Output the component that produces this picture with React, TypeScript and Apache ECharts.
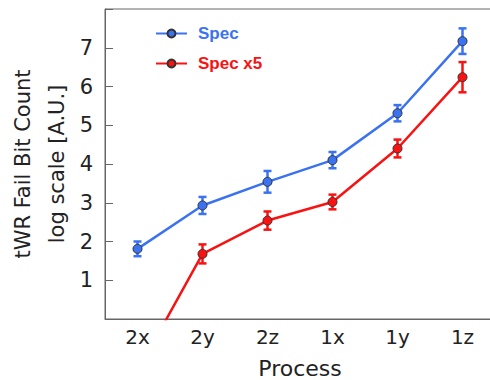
import React, { useEffect, useRef } from "react";
import * as echarts from "echarts";

const categories = ["2x", "2y", "2z", "1x", "1y", "1z"];
const specValues = [1.81, 2.93, 3.54, 4.1, 5.31, 7.17];
const specErrors = [0.19, 0.22, 0.28, 0.21, 0.21, 0.33];
const spec5Values = [-1.35, 1.68, 2.54, 3.02, 4.4, 6.24];
const spec5Errors = [null, 0.245, 0.235, 0.19, 0.23, 0.39];
const yTicks = [0, 1, 2, 3, 4, 5, 6, 7, 8];

const BLUE = "#3b72f2";
const RED = "#f81212";
const FONT = "DejaVu Sans";

function errorData(values: number[], errors: (number | null)[]) {
  const out: number[][] = [];
  values.forEach((v, i) => {
    const e = errors[i];
    if (e != null) out.push([i, v - e, v + e]);
  });
  return out;
}

function errorSeries(name: string, color: string, data: number[][]) {
  return {
    type: "custom",
    name: name + "-err",
    z: 1,
    silent: true,
    data,
    encode: { x: 0, y: [1, 2] },
    renderItem: (_params: any, api: any) => {
      const x = api.value(0);
      const lo = api.coord([x, api.value(1)]);
      const hi = api.coord([x, api.value(2)]);
      const hw = 4;
      const style = { stroke: color, lineWidth: 2.5 };
      return {
        type: "group",
        children: [
          { type: "line", shape: { x1: lo[0], y1: lo[1], x2: hi[0], y2: hi[1] }, style },
          { type: "line", shape: { x1: lo[0] - hw, y1: lo[1], x2: lo[0] + hw, y2: lo[1] }, style },
          { type: "line", shape: { x1: hi[0] - hw, y1: hi[1], x2: hi[0] + hw, y2: hi[1] }, style },
        ],
      };
    },
  };
}

export default function App() {
  const ref = useRef<HTMLDivElement>(null);
  useEffect(() => {
    if (!ref.current) return;
    const chart = echarts.init(ref.current, null, { renderer: "svg" });
    chart.setOption({
      animation: false,
      backgroundColor: "#ffffff",
      grid: {
        left: 105,
        top: 9,
        width: 390,
        height: 310,
        outerBoundsMode: "none",
        containLabel: false,
        show: true,
        borderColor: "#666",
        borderWidth: 1,
      },
      legend: {
        orient: "vertical",
        left: 150,
        top: 20,
        itemWidth: 31,
        itemHeight: 10,
        itemGap: 13,
        data: [
          { name: "Spec", textStyle: { color: BLUE } },
          { name: "Spec x5", textStyle: { color: RED } },
        ],
        textStyle: { fontFamily: "Liberation Sans", fontWeight: "bold", fontSize: 17, padding: [0, 0, 0, 6] },
      },
      xAxis: {
        type: "category",
        data: categories,
        boundaryGap: true,
        name: "Process",
        nameLocation: "middle",
        nameGap: 38,
        nameTextStyle: { fontFamily: FONT, fontSize: 22, color: "#222" },
        axisLine: { lineStyle: { color: "#666", width: 1 } },
        axisTick: { inside: true, length: 6, alignWithLabel: true, lineStyle: { color: "#666" } },
        axisLabel: { fontFamily: FONT, fontSize: 20, color: "#222", margin: 8 },
        splitLine: { show: false },
      },
      yAxis: {
        type: "value",
        min: yTicks[0],
        max: yTicks[yTicks.length - 1],
        interval: 1,
        name: "tWR Fail Bit Count\nlog scale [A.U.]",
        nameLocation: "middle",
        nameRotate: 90,
        nameGap: 31,
        nameMoveOverlap: false,
        nameTextStyle: { fontFamily: FONT, fontSize: 21, color: "#222", lineHeight: 34 },
        axisLine: { show: true, lineStyle: { color: "#666", width: 1 } },
        axisTick: { show: true, inside: true, length: 8, lineStyle: { color: "#666" } },
        axisLabel: {
          fontFamily: FONT,
          fontSize: 21,
          color: "#222",
          margin: 12,
          formatter: (v: number) => (v === 0 || v === 8 ? "" : String(v)),
        },
        splitLine: { show: false },
      },
      series: [
        errorSeries("Spec", BLUE, errorData(specValues, specErrors)),
        errorSeries("Spec x5", RED, errorData(spec5Values, spec5Errors)),
        {
          type: "line",
          name: "Spec",
          data: specValues,
          z: 3,
          clip: true,
          symbol: "circle",
          symbolSize: 9,
          lineStyle: { color: BLUE, width: 2.5 },
          itemStyle: { color: BLUE, borderColor: "#333", borderWidth: 1 },
        },
        {
          type: "line",
          name: "Spec x5",
          data: spec5Values,
          z: 3,
          clip: true,
          symbol: "circle",
          symbolSize: 9,
          lineStyle: { color: RED, width: 2.5 },
          itemStyle: { color: RED, borderColor: "#333", borderWidth: 1 },
        },
      ],
    });
    return () => chart.dispose();
  }, []);
  return (
    <div
      ref={ref}
      style={{ position: "fixed", left: 0, top: 0, width: 490, height: 380 }}
    />
  );
}
